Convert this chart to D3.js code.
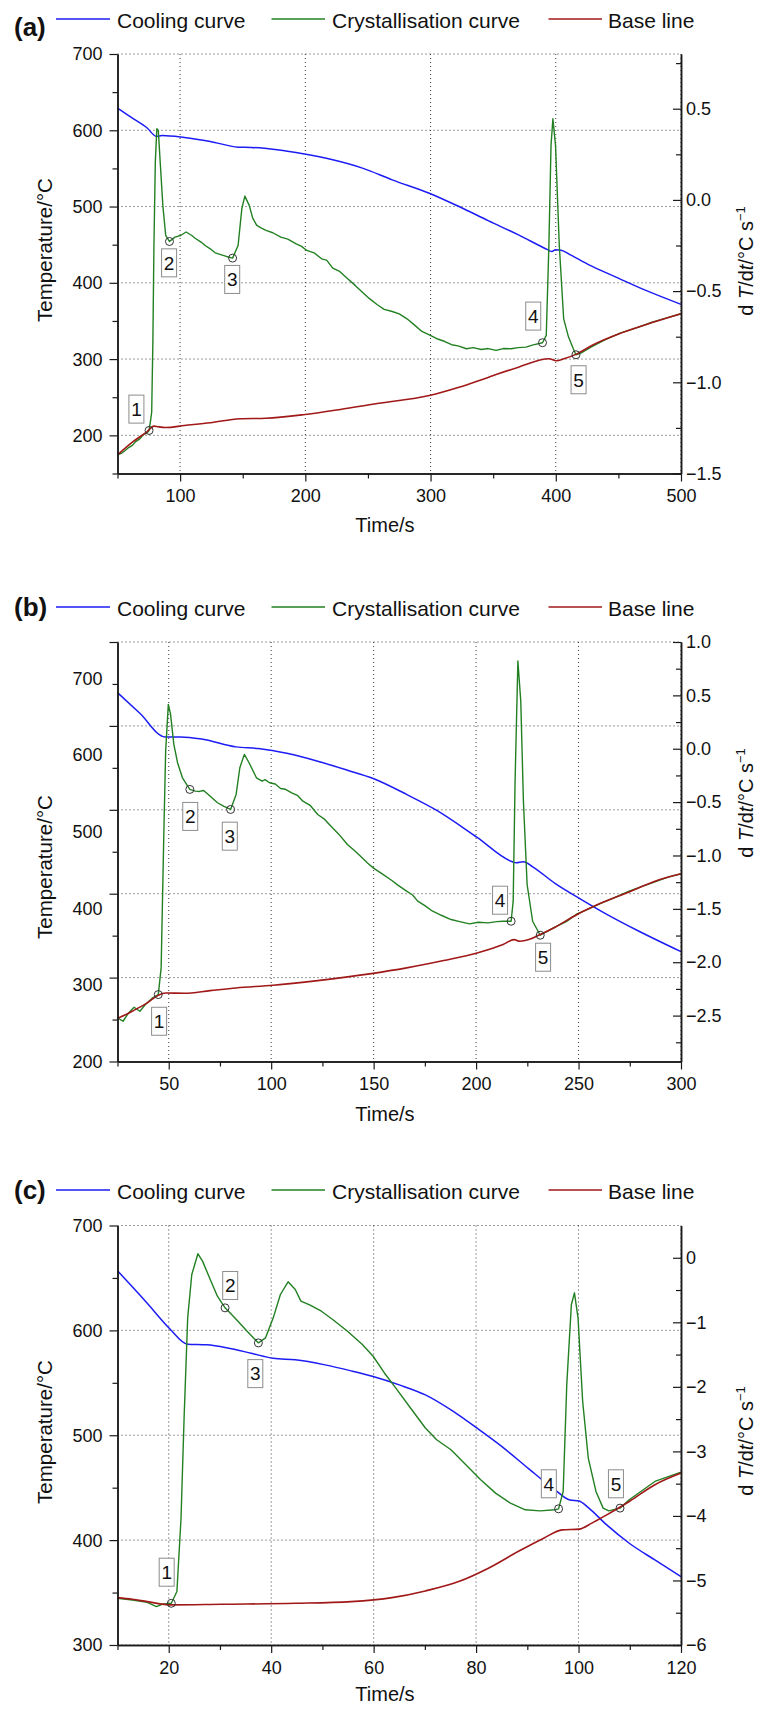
<!DOCTYPE html>
<html>
<head>
<meta charset="utf-8">
<script src="https://cdn.jsdelivr.net/npm/d3@7"></script>
<style>
  body { margin: 0; background: #fff; }
  svg { display: block; font-family: "Liberation Sans", Arial, Helvetica, sans-serif; }
</style>
</head>
<body>
<svg id="chart" width="766" height="1709"></svg>
<script>
// ---- data ----
const seriesNames = ['Cooling curve', 'Crystallisation curve', 'Base line']
const panelTags = ['(a)', '(b)', '(c)']

// (a)  time/s, temperature/°C  |  time/s, dT/dt
const coolingA = [[50,629],[61.9,616],[73.7,603],[81.1,592],[85.6,593.2],[103.4,590.6],[124.1,585.4],[146.3,577.9],[156.7,577.5],[177.5,574.4],[198.2,569.2],[221.9,561.3],[245.6,550.4],[269.4,535],[299,517.5],[322.7,500],[346.4,481.2],[370.2,462.8],[393.9,443.2],[396.8,441],[399.8,443.2],[404.2,442.7],[411.7,436.6],[426.5,423.5],[447.2,408.2],[471,390.7],[500,371.8]]
const crystA = [[50,-1.398],[53,-1.39],[55.9,-1.375],[58.5,-1.36],[61.9,-1.346],[64.5,-1.325],[67.8,-1.31],[71,-1.285],[73.7,-1.277],[75.2,-1.264],[76.6,-1.2],[77.3,-1.164],[78.2,-0.798],[79.1,-0.25],[80.2,0.208],[81.4,0.39],[82.6,0.381],[84.1,0.208],[86.2,-0.03],[88.5,-0.195],[91.5,-0.228],[95.9,-0.204],[100.4,-0.195],[104.8,-0.176],[109.3,-0.195],[112,-0.21],[116.7,-0.231],[120,-0.25],[124.1,-0.268],[128,-0.29],[133,-0.301],[137,-0.31],[141.9,-0.319],[146.3,-0.25],[149.3,-0.048],[151.7,0.021],[155.2,-0.03],[158,-0.1],[161.2,-0.14],[165,-0.155],[168.6,-0.167],[174,-0.18],[180.4,-0.204],[186,-0.215],[192.3,-0.24],[197,-0.255],[201.2,-0.277],[207,-0.29],[213,-0.323],[217,-0.33],[221.9,-0.374],[227,-0.39],[233.8,-0.432],[240,-0.47],[245.6,-0.506],[251,-0.54],[257.5,-0.575],[263,-0.6],[269.4,-0.612],[275,-0.625],[281.2,-0.652],[287,-0.685],[293.1,-0.721],[299,-0.74],[305,-0.761],[311,-0.775],[316.8,-0.794],[322,-0.8],[328.7,-0.816],[334,-0.81],[340.5,-0.82],[346,-0.815],[352.4,-0.825],[358,-0.815],[364.3,-0.816],[370,-0.81],[376.1,-0.807],[382,-0.795],[389.4,-0.783],[392.4,-0.743],[394.5,-0.25],[396.2,0.299],[397.7,0.445],[399.8,0.299],[402.8,-0.25],[406.3,-0.652],[410.2,-0.752],[414,-0.816],[416.1,-0.849],[420,-0.84],[428.8,-0.805],[440,-0.765],[452.5,-0.728],[465,-0.7],[476.3,-0.672],[488,-0.648],[500,-0.624]]
const baseA = [[50,-1.398],[61.9,-1.328],[73.7,-1.27],[79.1,-1.24],[82.6,-1.244],[88.5,-1.248],[103.4,-1.237],[124.1,-1.222],[147.8,-1.2],[168.6,-1.197],[198.2,-1.178],[227.9,-1.149],[257.5,-1.116],[299,-1.072],[322.7,-1.027],[346.4,-0.972],[370.2,-0.917],[394.6,-0.871],[400.5,-0.882],[406.5,-0.871],[416.9,-0.844],[428.8,-0.798],[452.5,-0.729],[476.3,-0.674],[500,-0.624]]
const markersA = [[75.2,-1.264],[91.5,-0.228],[141.9,-0.319],[389.4,-0.783],[416.1,-0.849]]
const boxesA = [[65.1,-1.147],[91.2,-0.345],[141.6,-0.436],[382,-0.637],[418.2,-0.986]]

// (b)
const coolingB = [[25,639.7],[35.9,615],[48.2,586.9],[55.8,586.9],[66.6,584.1],[82.9,575],[93.7,573],[108.2,567],[122.7,557.9],[137.2,547.2],[149.8,537.3],[166.1,518.3],[180.6,499.6],[200.5,467.1],[217.7,438.1],[219.5,436.9],[223.1,438.1],[227.6,432.1],[238.5,412.3],[251.2,393.3],[263.8,375.4],[278.3,356.7],[300,330.9]]
const crystB = [[25,-2.522],[27.7,-2.553],[30.4,-2.475],[33.1,-2.422],[35.9,-2.459],[38.6,-2.397],[42.2,-2.334],[44.9,-2.303],[46.3,-2.053],[47.6,-0.803],[48.5,-0.022],[49.8,0.416],[50.9,0.322],[52.5,0.041],[54.3,-0.131],[56.7,-0.272],[60.3,-0.381],[63,-0.397],[65,-0.4],[67,-0.391],[69.3,-0.428],[73.8,-0.506],[77,-0.54],[80.2,-0.569],[82.9,-0.428],[84.7,-0.178],[86.9,-0.053],[89.2,-0.131],[92.8,-0.272],[95.6,-0.303],[97,-0.29],[99.2,-0.319],[102,-0.33],[104.6,-0.372],[107,-0.38],[110,-0.413],[113,-0.44],[115.5,-0.491],[119,-0.53],[122.7,-0.616],[126,-0.66],[129.9,-0.741],[133,-0.8],[137.2,-0.897],[141,-0.96],[144.4,-1.022],[147,-1.07],[149.8,-1.116],[154,-1.17],[158.9,-1.234],[162,-1.28],[166.1,-1.334],[169,-1.37],[171.5,-1.428],[175,-1.47],[178.8,-1.522],[183,-1.56],[187.8,-1.6],[192,-1.62],[196.8,-1.641],[201,-1.625],[205.9,-1.631],[210,-1.62],[213.1,-1.616],[217.1,-1.616],[218.1,-1.428],[219,-0.334],[220.4,0.822],[221.8,0.447],[223.1,-0.491],[224.9,-1.272],[227.6,-1.616],[231.3,-1.747],[238.5,-1.672],[244,-1.62],[249.3,-1.547],[255,-1.5],[260.2,-1.453],[267,-1.4],[274.7,-1.334],[281,-1.29],[287.3,-1.247],[294,-1.2],[300,-1.172]]
const baseB = [[25,-2.528],[32.2,-2.459],[39.5,-2.381],[44.9,-2.309],[48.5,-2.288],[57.6,-2.291],[70.2,-2.266],[82.9,-2.241],[101,-2.216],[122.7,-2.172],[148,-2.109],[166.1,-2.053],[184.2,-1.984],[200.5,-1.913],[213.2,-1.834],[218.6,-1.788],[221.3,-1.803],[225.8,-1.788],[231.3,-1.741],[238.5,-1.672],[249.3,-1.553],[260.2,-1.453],[274.7,-1.341],[287.3,-1.241],[300,-1.172]]
const markersB = [[44.9,-2.303],[60.3,-0.381],[80.2,-0.569],[217.1,-1.616],[231.3,-1.747]]
const boxesB = [[45.3,-2.553],[60.5,-0.634],[79.8,-0.819],[211.7,-1.419],[232.7,-1.953]]

// (c)
const coolingC = [[10,656.8],[15.8,625.9],[20.1,602.1],[23.7,586.8],[27.4,586.2],[31.7,583],[36.1,578.2],[40.4,573.4],[44.7,571.9],[50.5,567.1],[55.6,561.4],[59.9,556],[65,548],[70.1,538.5],[75.1,524.2],[80.2,506.7],[85.3,488.2],[90.3,467.9],[95.4,447.9],[98.3,438.3],[100.1,437.4],[101.9,431],[105.5,414.5],[109.9,397],[114.9,381.1],[120,365.2]]
const crystC = [[10,-5.276],[12.9,-5.302],[15.8,-5.338],[17.6,-5.405],[18.7,-5.369],[20.5,-5.354],[21.6,-5.172],[22.4,-4.035],[23,-2.483],[23.7,-0.931],[24.5,-0.259],[25.7,0.062],[26.6,-0.052],[28.1,-0.336],[29.5,-0.595],[31,-0.776],[33.2,-0.957],[35.3,-1.138],[37.5,-1.319],[38.9,-1.241],[40.4,-0.931],[41.8,-0.569],[43.3,-0.372],[44.7,-0.491],[45.8,-0.672],[47.6,-0.734],[49.8,-0.828],[52,-0.957],[54.9,-1.138],[57.8,-1.345],[59.9,-1.526],[62.1,-1.785],[64.3,-2.017],[67.2,-2.328],[70.1,-2.638],[72.3,-2.819],[75.1,-2.974],[78,-3.207],[80.9,-3.44],[83.8,-3.647],[86.7,-3.802],[89.6,-3.905],[92.5,-3.921],[95.4,-3.905],[96.1,-3.89],[97,-3.621],[97.7,-1.966],[98.6,-0.724],[99.2,-0.543],[99.9,-0.931],[100.8,-2.224],[101.9,-3.103],[103.4,-3.621],[104.8,-3.879],[105.9,-3.921],[108.1,-3.879],[109.9,-3.75],[114.9,-3.466],[120,-3.321]]
const baseC = [[10,-5.266],[12.9,-5.292],[15.8,-5.328],[20.5,-5.379],[30.3,-5.369],[44.7,-5.354],[55.6,-5.328],[63.6,-5.266],[70.1,-5.162],[76.6,-5.017],[82.4,-4.81],[88.2,-4.552],[93.2,-4.345],[96.8,-4.216],[100.1,-4.205],[102.6,-4.112],[105.5,-3.983],[109.9,-3.776],[114.9,-3.517],[120,-3.336]]
const markersC = [[20.5,-5.354],[31,-0.776],[37.5,-1.319],[96.1,-3.89],[108.1,-3.879]]
const boxesC = [[19.6,-4.872],[32,-0.429],[36.9,-1.795],[94.2,-3.502],[107.3,-3.502]]

// axes: domains and tick values
const timeDomains = [[50, 500], [25, 300], [10, 120]]
const timeTicks = [[100, 200, 300, 400, 500], [50, 100, 150, 200, 250, 300], [20, 40, 60, 80, 100, 120]]
const timeMinor = [[50, 150, 250, 350, 450], [25, 75, 125, 175, 225, 275], [10, 30, 50, 70, 90, 110]]
const tempDomains = [[150, 700], [200, 700], [300, 700]]
const tempTicks = [[200, 300, 400, 500, 600, 700], [200, 300, 400, 500, 600, 700], [300, 400, 500, 600, 700]]
const tempMinor = [[150, 250, 350, 450, 550, 650], [250, 350, 450, 550, 650], [350, 450, 550, 650]]
const rateDomains = [[-1.5, 0.8], [-2.93, 1.0], [-6, 0.5]]
const rateTicks = [[-1.5, -1, -0.5, 0, 0.5], [-2.5, -2, -1.5, -1, -0.5, 0, 0.5, 1], [-6, -5, -4, -3, -2, -1, 0]]
const rateMinor = [[-1.25, -0.75, -0.25, 0.25, 0.75], [-2.75, -2.25, -1.75, -1.25, -0.75, -0.25, 0.25, 0.75], [-5.5, -4.5, -3.5, -2.5, -1.5, -0.5]]
const rateFormats = ['.1f', '.1f', 'd']

// ---- layout ----
const colors = ['#1c1cf5', '#228022', '#a01818']
const plotLeft = 117.5, plotRight = 681, plotH = 419.5
const layout = [
  {top: 54, legendBase: 28, tagDy: 7.7, labelSpan: 1, leftTitleY: 250, rightTitleY: 261, xTitleDy: 58},
  {top: 642, legendBase: 616, tagDy: 0, labelSpan: 0.914, leftTitleY: 867, rightTitleY: 803, xTitleDy: 59},
  {top: 1225.5, legendBase: 1199, tagDy: 0, labelSpan: 1, leftTitleY: 1432, rightTitleY: 1441, xTitleDy: 56}
]
const legendLines = [[56, 110], [271.5, 325], [548.5, 602]]
const legendTextX = [117, 332, 608]

const curves = [[coolingA, crystA, baseA], [coolingB, crystB, baseB], [coolingC, crystC, baseC]]
const markers = [markersA, markersB, markersC]
const boxes = [boxesA, boxesB, boxesC]

const svg = d3.select('#chart')
svg.append('rect').attr('width', 766).attr('height', 1709).attr('fill', '#fff')

const styleAxis = g => {
  g.attr('font-size', 18).attr('font-family', null)
  g.select('.domain').attr('stroke', '#1a1a1a').attr('stroke-width', 1.5)
  g.selectAll('.tick line').attr('stroke', '#1a1a1a').attr('stroke-width', 1.2)
  g.selectAll('.tick text').attr('fill', '#111')
}

layout.forEach((p, i) => {
  const bottom = p.top + plotH
  const x = d3.scaleLinear().domain(timeDomains[i]).range([plotLeft, plotRight])
  const yT = d3.scaleLinear().domain(tempDomains[i]).range([bottom, p.top])
  const yD = d3.scaleLinear().domain(rateDomains[i]).range([bottom, p.top])
  const tt = tempTicks[i]
  const y0 = yT(tt[0]), y1 = yT(tt[tt.length - 1])
  // panel (b) prints its temperature labels on a slightly compressed spacing
  const yLabel = d3.scaleLinear().domain([tt[0], tt[tt.length - 1]]).range([y0, y0 - (y0 - y1) * p.labelSpan])

  const g = svg.append('g')

  // grid
  const grid = g.append('g').attr('stroke', '#3a3a3a').attr('stroke-width', 1).attr('stroke-dasharray', '1,3')
  grid.selectAll('.h').data(tt).join('line').attr('class', 'h')
    .attr('x1', plotLeft).attr('x2', plotRight).attr('y1', d => yT(d)).attr('y2', d => yT(d))
  grid.selectAll('.v').data(timeTicks[i]).join('line').attr('class', 'v')
    .attr('x1', d => x(d)).attr('x2', d => x(d)).attr('y1', p.top).attr('y2', bottom)

  // curves
  const lineT = d3.line().x(d => x(d[0])).y(d => yT(d[1]))
  const lineD = d3.line().x(d => x(d[0])).y(d => yD(d[1]))
  const [cool, cryst, base] = curves[i]
  g.append('path').attr('d', lineT.curve(d3.curveMonotoneX)(cool))
    .attr('fill', 'none').attr('stroke', colors[0]).attr('stroke-width', 1.5)
  g.append('path').attr('d', lineD.curve(d3.curveLinear)(cryst))
    .attr('fill', 'none').attr('stroke', colors[1]).attr('stroke-width', 1.4).attr('stroke-linejoin', 'round')
  g.append('path').attr('d', d3.line().x(d => x(d[0])).y(d => yD(d[1])).curve(d3.curveMonotoneX)(base))
    .attr('fill', 'none').attr('stroke', colors[2]).attr('stroke-width', 1.6)

  // markers and numbered boxes
  g.selectAll('.mk').data(markers[i]).join('circle').attr('class', 'mk')
    .attr('cx', d => x(d[0])).attr('cy', d => yD(d[1])).attr('r', 4)
    .attr('fill', 'none').attr('stroke', '#333').attr('stroke-width', 1)
  const bx = g.selectAll('.bx').data(boxes[i]).join('g').attr('class', 'bx')
    .attr('transform', d => `translate(${x(d[0])},${yD(d[1])})`)
  bx.append('rect').attr('x', -7.5).attr('y', -14).attr('width', 15).attr('height', 28)
    .attr('fill', '#fff').attr('stroke', '#8c8c8c').attr('stroke-width', 1)
  bx.append('text').attr('text-anchor', 'middle').attr('dy', 6.8).attr('font-size', 19).attr('fill', '#111')
    .text((d, k) => k + 1)

  // axes
  g.append('g').attr('transform', `translate(0,${bottom})`)
    .call(d3.axisBottom(x).tickValues(timeMinor[i]).tickSize(5).tickSizeOuter(0).tickFormat('')).call(styleAxis)
  g.append('g').attr('transform', `translate(0,${bottom})`)
    .call(d3.axisBottom(x).tickValues(timeTicks[i]).tickSize(8).tickSizeOuter(0).tickPadding(8)).call(styleAxis)

  g.append('g').attr('transform', `translate(${plotLeft},0)`)
    .call(d3.axisLeft(yT).tickValues(tempMinor[i]).tickSize(5).tickSizeOuter(0).tickFormat('')).call(styleAxis)
  g.append('g').attr('transform', `translate(${plotLeft},0)`)
    .call(d3.axisLeft(yT).tickValues(tt).tickSize(8).tickSizeOuter(0).tickFormat('')).call(styleAxis)
  g.append('g').attr('font-size', 18).attr('fill', '#111').attr('text-anchor', 'end')
    .selectAll('text').data(tt).join('text')
    .attr('x', plotLeft - 15).attr('y', d => yLabel(d)).attr('dy', '0.36em').text(d => d)

  g.append('g').attr('transform', `translate(${plotRight},0)`)
    .call(d3.axisRight(yD).tickValues(rateMinor[i]).tickSize(-5).tickSizeOuter(0).tickFormat('')).call(styleAxis)
  g.append('g').attr('transform', `translate(${plotRight},0)`)
    .call(d3.axisRight(yD).tickValues(rateTicks[i]).tickSize(-8).tickSizeOuter(0).tickPadding(5)
      .tickFormat(d3.format(rateFormats[i]))).call(styleAxis)

  // titles
  g.append('text').attr('x', 385).attr('y', bottom + p.xTitleDy).attr('text-anchor', 'middle')
    .attr('font-size', 20).attr('fill', '#111').text('Time/s')
  g.append('text').attr('transform', `translate(51.5,${p.leftTitleY}) rotate(-90)`).attr('text-anchor', 'middle')
    .attr('font-size', 20.5).attr('fill', '#111').text('Temperature/°C')
  const rt = g.append('text').attr('transform', `translate(753,${p.rightTitleY}) rotate(-90)`)
    .attr('text-anchor', 'middle').attr('font-size', 20).attr('fill', '#111')
  rt.append('tspan').text('d ')
  rt.append('tspan').attr('font-style', 'italic').text('T')
  rt.append('tspan').text('/d')
  rt.append('tspan').attr('font-style', 'italic').text('t')
  rt.append('tspan').text('/°C s')
  rt.append('tspan').attr('font-size', 13).attr('dy', -8).text('−1')

  // legend
  g.append('text').attr('x', 14).attr('y', p.legendBase + p.tagDy).attr('font-size', 26)
    .attr('font-weight', 'bold').attr('fill', '#111').text(panelTags[i])
  seriesNames.forEach((name, k) => {
    g.append('line').attr('x1', legendLines[k][0]).attr('x2', legendLines[k][1])
      .attr('y1', p.legendBase - 9).attr('y2', p.legendBase - 9)
      .attr('stroke', colors[k]).attr('stroke-width', 1.6)
    g.append('text').attr('x', legendTextX[k]).attr('y', p.legendBase)
      .attr('font-size', 21).attr('fill', '#111').text(name)
  })
})
</script>
</body>
</html>
